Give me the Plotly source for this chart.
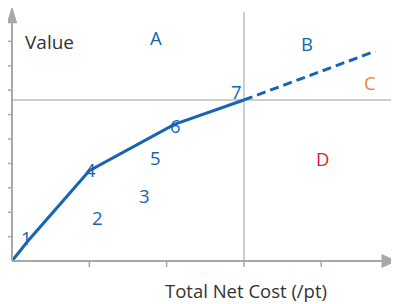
import plotly.graph_objects as go

# Data (in axis units: x ticks 0..4, y ticks 0..9)
solid_x = [0.0, 0.2, 1.0, 2.1, 3.0]
solid_y = [0.0, 0.8, 3.7, 5.6, 6.6]
dash_x = [3.0, 4.7]
dash_y = [6.6, 8.6]

point_labels = ["1", "2", "3", "4", "5", "6", "7"]
point_x = [0.19, 1.11, 1.72, 1.01, 1.86, 2.11, 2.91]
point_y = [0.98, 1.80, 2.70, 3.73, 4.26, 5.57, 6.93]

region_labels = ["A", "B", "C", "D"]
region_x = [1.86, 3.82, 4.63, 4.01]
region_y = [9.14, 8.93, 7.30, 4.22]
region_colors = ["#1565b5", "#1565b5", "#f0852d", "#e3202f"]

x_ticks = [1, 2, 3, 4]
y_ticks = [1, 2, 3, 4, 5, 6, 7, 8, 9]
cross_x = 3.0
cross_y = 6.6

BLUE = "#1565b5"
AXIS = "#a8a8a8"
GRID = "#bdbdbd"
FONT = "Open Sans"

fig = go.Figure()
fig.add_trace(go.Scatter(x=solid_x, y=solid_y, mode="lines",
                         line=dict(color=BLUE, width=3), hoverinfo="skip"))
fig.add_trace(go.Scatter(x=dash_x, y=dash_y, mode="lines",
                         line=dict(color=BLUE, width=3, dash="9px,5px"), hoverinfo="skip"))

shapes = []
# crosshair lines
shapes.append(dict(type="line", x0=0, x1=5.1, y0=cross_y, y1=cross_y,
                   line=dict(color=GRID, width=1.5), layer="below"))
shapes.append(dict(type="line", x0=cross_x, x1=cross_x, y0=0, y1=10.2,
                   line=dict(color=GRID, width=1.5), layer="below"))
# axes
shapes.append(dict(type="line", x0=0, x1=4.79, y0=0, y1=0, line=dict(color=AXIS, width=2)))
shapes.append(dict(type="line", x0=0, x1=0, y0=0, y1=9.76, line=dict(color=AXIS, width=2)))
# arrow heads
shapes.append(dict(type="path", path="M 4.78,0.29 L 4.98,0 L 4.78,-0.29 Z",
                   fillcolor=AXIS, line=dict(width=0)))
shapes.append(dict(type="path", path="M -0.068,9.74 L 0,10.45 L 0.068,9.74 Z",
                   fillcolor=AXIS, line=dict(width=0)))
# ticks
for t in x_ticks:
    shapes.append(dict(type="line", x0=t, x1=t, y0=0, y1=-0.25, line=dict(color=AXIS, width=1.5)))
for t in y_ticks:
    shapes.append(dict(type="line", x0=0, x1=-0.068, y0=t, y1=t, line=dict(color=AXIS, width=1.5)))

annotations = []
for lab, x, y in zip(point_labels, point_x, point_y):
    annotations.append(dict(x=x, y=y, text=lab, showarrow=False, xanchor="center", yanchor="middle",
                            font=dict(family=FONT, size=18.5, color=BLUE)))
for lab, x, y, c in zip(region_labels, region_x, region_y, region_colors):
    annotations.append(dict(x=x, y=y, text=lab, showarrow=False, xanchor="center", yanchor="middle",
                            font=dict(family=FONT, size=18.5, color=c)))
annotations.append(dict(x=0.48, y=8.98, text="Value", showarrow=False, xanchor="center", yanchor="middle",
                        font=dict(family=FONT, size=19, color="#333333")))
annotations.append(dict(x=3.03, y=-1.19, text="Total Net Cost (/pt)", showarrow=False,
                        xanchor="center", yanchor="middle",
                        font=dict(family=FONT, size=18.5, color="#333333")))

# page has an 8px body margin, so the figure is 8px smaller and offset
fig.update_layout(
    width=391, height=296,
    margin=dict(l=0, r=0, t=0, b=0),
    paper_bgcolor="white", plot_bgcolor="white",
    showlegend=False,
    shapes=shapes, annotations=annotations,
    xaxis=dict(range=[-0.052, 5.006], visible=False, fixedrange=True),
    yaxis=dict(range=[-1.762, 10.369], visible=False, fixedrange=True),
)
fig.write_html("out.html")
